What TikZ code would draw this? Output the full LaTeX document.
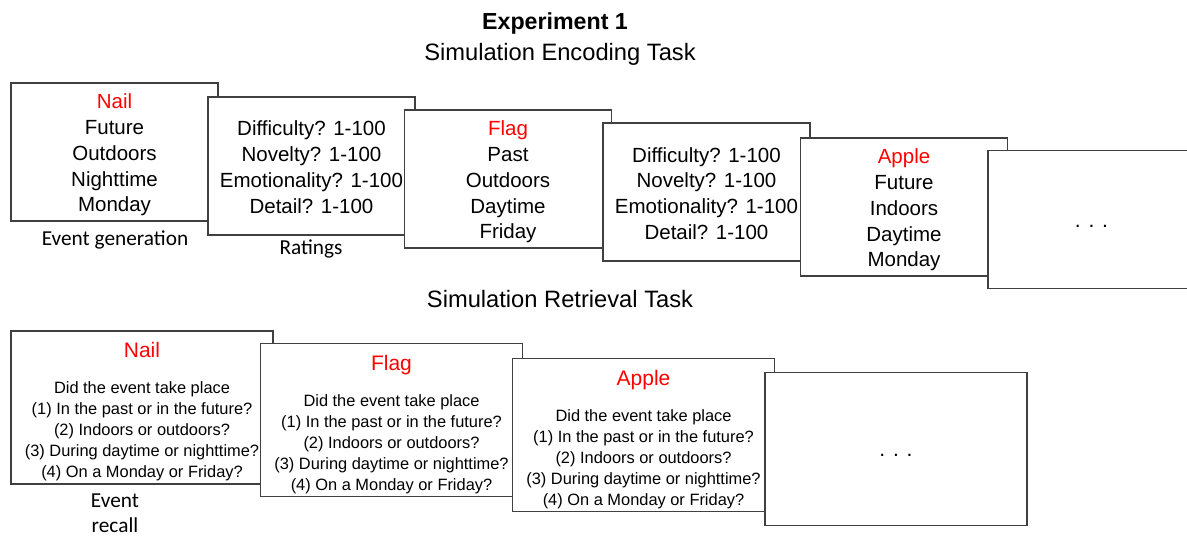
\documentclass[tikz,border=0pt]{standalone}
\usepackage{fontspec}
\setmainfont{Liberation Sans}
\newfontfamily\calibri{Carlito}
\newcommand{\cue}[1]{\textcolor{red}{#1}}
\newcommand{\cueline}[1]{{\fontsize{21}{21}\selectfont\cue{#1}}}
\begin{document}
\begin{tikzpicture}
      [x=1pt,y=-1pt,every node/.style={align=center,inner sep=0pt}]

      \tikzstyle{card} = [draw=black!75,line width=1.4pt,fill=white,
            minimum width=207pt,minimum height=138pt]
      \tikzstyle{recallcard} = [card,minimum width=262pt,minimum height=153pt]
      \tikzstyle{cardtext} = [font=\fontsize{20.5}{25.8}\selectfont]
      \tikzstyle{recalltext} = [font=\fontsize{16.4}{21}\selectfont]
      \tikzstyle{dotstext} = [font=\fontsize{21}{21}\selectfont]
      \tikzstyle{caption} = [font=\calibri\fontsize{21.3}{25}\selectfont]
      \tikzstyle{heading} = [anchor=base,font=\fontsize{23.7}{28}\selectfont]

      \useasboundingbox (0,0) rectangle (1187,536);
      \clip (0,0) rectangle (1187,536);

      \node[heading,font=\bfseries\fontsize{23.2}{28}\selectfont] (title) at (555,29) {Experiment 1};
      \node[heading] (enctask) at (560,60.5) {Simulation Encoding Task};
      \node[heading] (rettask) at (560,307) {Simulation Retrieval Task};

      \node[card] (e1) at (114.5,152) {};
      \node[cardtext] (e1t) at ([yshift=-3]e1.center) {\cue{Nail}\\Future\\Outdoors\\Nighttime\\Monday};
      \node[card] (e2) at (311.5,166) {};
      \node[cardtext] (e2t) at ([yshift=-1]e2.center) {Difficulty? 1-100\\Novelty? 1-100\\Emotionality? 1-100\\Detail? 1-100};
      \node[card] (e3) at (508,179) {};
      \node[cardtext] (e3t) at ([yshift=-3]e3.center) {\cue{Flag}\\Past\\Outdoors\\Daytime\\Friday};
      \node[card] (e4) at (706.5,192) {};
      \node[cardtext] (e4t) at ([yshift=-1.5]e4.center) {Difficulty? 1-100\\Novelty? 1-100\\Emotionality? 1-100\\Detail? 1-100};
      \node[card] (e5) at (904,207) {};
      \node[cardtext] (e5t) at ([yshift=-3]e5.center) {\cue{Apple}\\Future\\Indoors\\Daytime\\Monday};
      \node[card] (e6) at (1091.5,219.5) {};
      \node[dotstext] (e6t) at ([yshift=-6.5]e6.center) {. . .};

      \node[caption] (gen) at (115,240) {Event generation};
      \node[caption] (rate) at (311,249) {Ratings};

      \node[recallcard] (r1) at (142,407.5) {};
      \node[recalltext] (r1t) at ([yshift=-4.4]r1.center) {\cueline{Nail}\\[15pt]Did the event take place\\(1) In the past or in the future?\\(2) Indoors or outdoors?\\(3) During daytime or nighttime?\\(4) On a Monday or Friday?};
      \node[recallcard] (r2) at (391.5,420) {};
      \node[recalltext] (r2t) at ([yshift=-4.4]r2.center) {\cueline{Flag}\\[15pt]Did the event take place\\(1) In the past or in the future?\\(2) Indoors or outdoors?\\(3) During daytime or nighttime?\\(4) On a Monday or Friday?};
      \node[recallcard] (r3) at (643.5,435) {};
      \node[recalltext] (r3t) at ([yshift=-4.4]r3.center) {\cueline{Apple}\\[15pt]Did the event take place\\(1) In the past or in the future?\\(2) Indoors or outdoors?\\(3) During daytime or nighttime?\\(4) On a Monday or Friday?};
      \node[recallcard] (r4) at (896,449) {};
      \node[dotstext] (r4t) at ([yshift=-6]r4.center) {. . .};

      \node[caption] (recall) at (115,513) {Event\\recall};
    \end{tikzpicture}
\end{document}
